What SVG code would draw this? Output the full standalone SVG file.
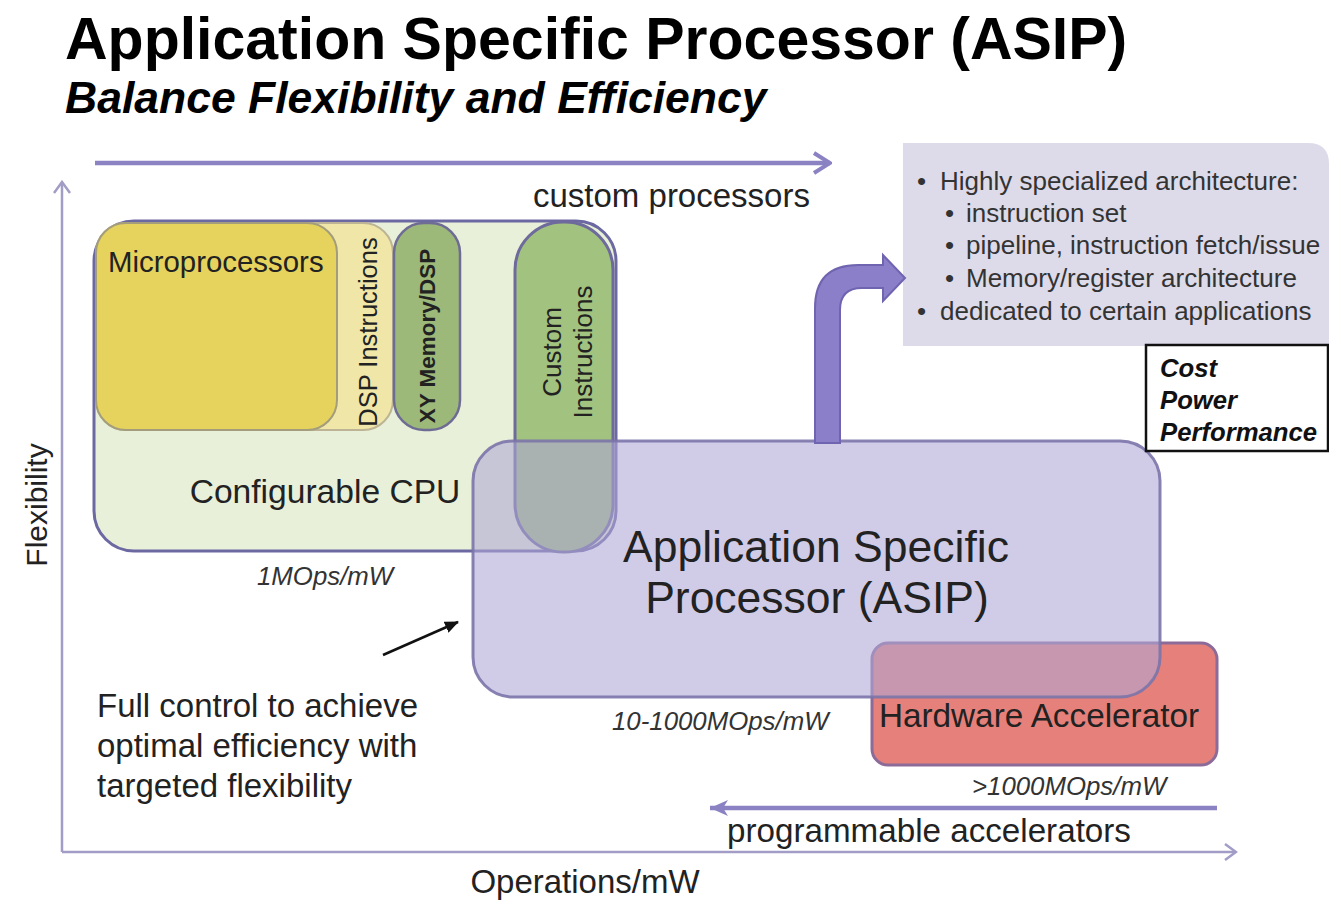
<svg xmlns="http://www.w3.org/2000/svg" width="1329" height="900" viewBox="0 0 1329 900">
  <defs>
    <style>
      text { font-family: "Liberation Sans", Arial, sans-serif; fill: #222; }
      .title { font-size: 59px; font-weight: bold; fill: #000; }
      .subtitle { font-size: 44.5px; font-weight: bold; font-style: italic; fill: #000; }
      .label { font-size: 33px; }
      .rate { font-size: 25.8px; font-style: italic; fill: #333; }
      .spec { font-size: 26px; fill: #333; }
      .ppa { font-size: 25.7px; font-weight: bold; font-style: italic; fill: #111; }
      .axis { stroke: #a19dc6; stroke-width: 2.5; fill: none; }
      .sweep { stroke: #8a82c2; stroke-width: 4.5; fill: none; }
    </style>
    <marker id="chevAxis" markerUnits="userSpaceOnUse" viewBox="0 0 14 18" markerWidth="14" markerHeight="18" refX="12" refY="9" orient="auto">
      <path d="M1 1 L12 9 L1 17" fill="none" stroke="#a19dc6" stroke-width="2.5"/>
    </marker>
    <marker id="chevSweep" markerUnits="userSpaceOnUse" viewBox="0 0 20 24" markerWidth="20" markerHeight="24" refX="18" refY="12" orient="auto">
      <path d="M2 2 L18 12 L2 22" fill="none" stroke="#8a82c2" stroke-width="4"/>
    </marker>
    <marker id="headSweep" markerUnits="userSpaceOnUse" viewBox="0 0 20 20" markerWidth="20" markerHeight="20" refX="18" refY="10" orient="auto">
      <path d="M0 2 L18 10 L0 18 L5 10 Z" fill="#8a82c2"/>
    </marker>
    <marker id="headBlack" markerUnits="userSpaceOnUse" viewBox="0 0 14 12" markerWidth="14" markerHeight="12" refX="13" refY="6" orient="auto">
      <path d="M0 0 L14 6 L0 12 Z" fill="#111"/>
    </marker>
  </defs>

  <rect width="1329" height="900" fill="#ffffff"/>

  <!-- heading -->
  <g id="heading">
    <text class="title" x="65" y="59">Application Specific Processor (ASIP)</text>
    <text class="subtitle" x="65" y="113">Balance Flexibility and Efficiency</text>
  </g>

  <!-- axes -->
  <g id="axes">
    <path class="axis" d="M62 852 V182" marker-end="url(#chevAxis)"/>
    <path class="axis" d="M62 852 H1236" marker-end="url(#chevAxis)"/>
    <text font-size="30" transform="translate(47 505) rotate(-90)" text-anchor="middle">Flexibility</text>
    <text class="label" x="585" y="893" text-anchor="middle">Operations/mW</text>
  </g>

  <!-- configurable CPU family -->
  <g id="configurable-cpu">
    <rect x="94" y="221" width="522" height="330" rx="40" fill="#e9f0d9" stroke="#6c68a2" stroke-width="3"/>
    <text font-size="33.6" x="325" y="503" text-anchor="middle" fill="#2a2a2a">Configurable CPU</text>
  </g>

  <g id="dsp-instructions">
    <rect x="96" y="223" width="297" height="207" rx="30" fill="#efe6a8" stroke="#bcb494" stroke-width="2"/>
    <text font-size="25.5" transform="translate(377 332) rotate(-90)" text-anchor="middle" fill="#9c9678">DSP Instructions</text>
  </g>

  <g id="microprocessors">
    <rect x="96" y="223" width="241" height="207" rx="30" fill="#e6d35e" stroke="#a39d7c" stroke-width="2"/>
    <text font-size="29.4" x="108" y="272" fill="#767250">Microprocessors</text>
  </g>

  <g id="xy-memory">
    <rect x="394" y="223" width="66" height="207" rx="30" fill="#9db97a" stroke="#6e6c94" stroke-width="2.5"/>
    <text font-size="22.5" font-weight="bold" transform="translate(435 336) rotate(-90)" text-anchor="middle" fill="#2a2a2a">XY Memory/DSP</text>
  </g>

  <g id="custom-instructions">
    <rect x="515" y="222" width="98" height="330" rx="48" fill="#a2c27f" stroke="#6e6a9c" stroke-width="3"/>
    <text font-size="26" transform="translate(561 352) rotate(-90)" text-anchor="middle" fill="#2e2e2e">Custom</text>
    <text font-size="26" transform="translate(592 352) rotate(-90)" text-anchor="middle" fill="#2e2e2e">Instructions</text>
  </g>

  <!-- fixed-function block -->
  <g id="hardware-accelerator">
    <rect x="872" y="643" width="345" height="122" rx="16" fill="#e6807a" stroke="#8d6b98" stroke-width="3"/>
    <text font-size="33.3" x="1039" y="727" text-anchor="middle" fill="#1e1e1e">Hardware Accelerator</text>
  </g>

  <!-- translucent ASIP region drawn over its neighbours -->
  <g id="asip">
    <rect x="473" y="441" width="687" height="256" rx="40" fill="#aea7d6" fill-opacity="0.58" stroke="#7b74aa" stroke-opacity="0.9" stroke-width="3"/>
    <text font-size="44.5" x="816" y="562" text-anchor="middle" fill="#1e1e1e">Application Specific</text>
    <text font-size="44.5" x="817" y="613" text-anchor="middle" fill="#1e1e1e">Processor (ASIP)</text>
  </g>

  <!-- architecture features -->
  <g id="specs">
    <path d="M903 143 H1308 Q1329 143 1329 164 V346 H903 Z" fill="#dddbe9"/>
    <text class="spec" x="917" y="190">•</text>
    <text class="spec" x="940" y="190">Highly specialized architecture:</text>
    <text class="spec" x="945" y="222">•</text>
    <text class="spec" x="966" y="222">instruction set</text>
    <text class="spec" x="945" y="254">•</text>
    <text class="spec" x="966" y="254">pipeline, instruction fetch/issue</text>
    <text class="spec" x="945" y="287">•</text>
    <text class="spec" x="966" y="287">Memory/register architecture</text>
    <text class="spec" x="917" y="320">•</text>
    <text class="spec" x="940" y="320">dedicated to certain applications</text>
  </g>

  <g id="cost-power-performance">
    <rect x="1146" y="345" width="182" height="106" fill="#ffffff" stroke="#111" stroke-width="2.5"/>
    <text class="ppa" x="1160" y="377">Cost</text>
    <text class="ppa" x="1160" y="409">Power</text>
    <text class="ppa" x="1160" y="441">Performance</text>
  </g>

  <!-- efficiency figures and notes -->
  <g id="rates">
    <text class="rate" x="257" y="585">1MOps/mW</text>
    <text class="rate" x="612" y="730">10-1000MOps/mW</text>
    <text class="rate" x="972" y="795">&gt;1000MOps/mW</text>
  </g>

  <g id="note">
    <text class="label" x="97" y="717">Full control to achieve</text>
    <text class="label" x="97" y="757">optimal efficiency with</text>
    <text class="label" x="97" y="797">targeted flexibility</text>
  </g>

  <g id="sweep-labels">
    <text class="label" x="533" y="207">custom processors</text>
    <text font-size="33.2" x="727" y="842">programmable accelerators</text>
  </g>

  <!-- connectors -->
  <g id="connectors">
    <path class="sweep" d="M95 163 H830" marker-end="url(#chevSweep)"/>
    <path class="sweep" d="M1217 808 H710" marker-end="url(#headSweep)"/>
    <path d="M383 655 L458 622" stroke="#111" stroke-width="2.5" fill="none" marker-end="url(#headBlack)"/>
    <path d="M815 443 V308 Q815 265 858 265 H883 V255 L905 278 L883 301 V288 H862 Q840 288 840 310 V443 Z" fill="#8b7fc9" stroke="#6f64b0" stroke-width="2"/>
  </g>
</svg>
